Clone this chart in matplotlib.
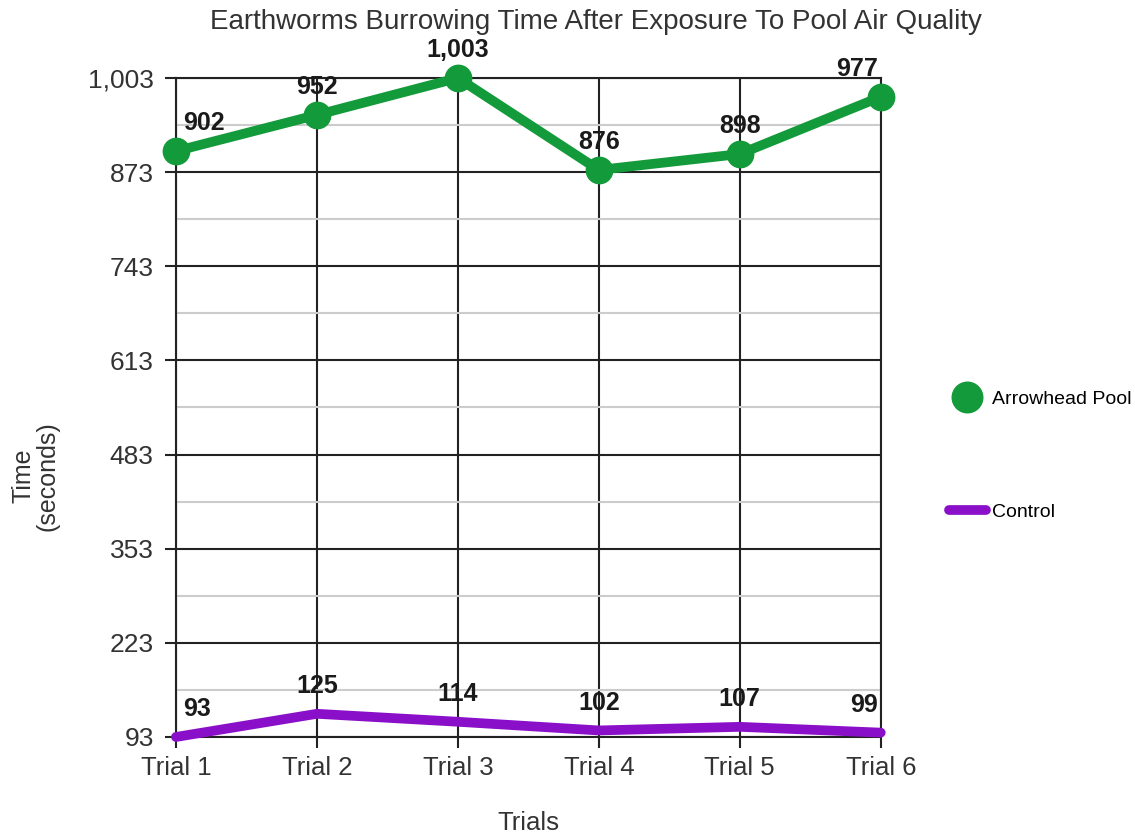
import numpy as np
import matplotlib.pyplot as plt
from matplotlib.lines import Line2D
from matplotlib.ticker import FixedLocator, FuncFormatter

plt.rcParams['font.family'] = ['Liberation Sans', 'DejaVu Sans']

trials = ["Trial 1", "Trial 2", "Trial 3", "Trial 4", "Trial 5", "Trial 6"]
arrowhead = [902, 952, 1003, 876, 898, 977]
control = [93, 125, 114, 102, 107, 99]
y_ticks = [93, 223, 353, 483, 613, 743, 873, 1003]

green = "#139a3a"
purple = "#8a0fc8"
text_col = "#333333"

fig = plt.figure(figsize=(11.35, 8.35), dpi=100)
ax = fig.add_axes([0.155, 0.1174, 0.621, 0.7892])

x = np.arange(len(trials))
ax.plot(x, arrowhead, color=green, lw=7, marker="o", ms=19,
        solid_capstyle="round", zorder=4, clip_on=False)
ax.plot(x, control, color=purple, lw=7, solid_capstyle="round",
        zorder=4, clip_on=False)

ax.set_xlim(0, len(trials) - 1)
ax.set_ylim(y_ticks[0], y_ticks[-1])
ax.set_xticks(x)
ax.set_xticklabels(trials, fontsize=18.5, color=text_col)
ax.yaxis.set_major_locator(FixedLocator(y_ticks))
ax.yaxis.set_minor_locator(FixedLocator([v + 65 for v in y_ticks[:-1]]))
ax.yaxis.set_major_formatter(FuncFormatter(lambda v, p: f"{int(round(v)):,}"))
ax.tick_params(axis="y", labelsize=19, labelcolor=text_col, pad=8)
ax.tick_params(axis="x", pad=6)
ax.tick_params(which="major", length=8, width=1.5, color="#222222")
ax.tick_params(which="minor", length=0)

ax.grid(which="major", color="#222222", lw=1.5, zorder=1)
ax.grid(which="minor", axis="y", color="#cccccc", lw=1.5, zorder=0)
for s in ax.spines.values():
    s.set_color("#222222")
    s.set_linewidth(1.5)

# data labels above each point; the end ones are pushed inward
def label_pos(i):
    if i == 0:
        return 5, "left"
    if i == len(trials) - 1:
        return -2, "right"
    return 0, "center"

for series in (arrowhead, control):
    for i, v in enumerate(series):
        dx, ha = label_pos(i)
        ax.annotate(f"{v:,}", (x[i], v), xytext=(dx, 15), textcoords="offset points",
                    ha=ha, va="baseline", fontsize=18, fontweight="bold",
                    color="#1a1a1a", zorder=6, annotation_clip=False)

fig.text(0.525, 0.9655, "Earthworms Burrowing Time After Exposure To Pool Air Quality",
         ha="center", va="baseline", fontsize=20, color=text_col)
ax.set_xlabel("Trials", fontsize=18.5, color=text_col, labelpad=22)
fig.text(0.031, 0.43, "Time\n(seconds)", rotation=90, ha="center", va="center",
         multialignment="center", fontsize=18, color=text_col, linespacing=1.0)

handles = [Line2D([], [], color=green, marker="o", ls="none", ms=22),
           Line2D([], [], color=purple, lw=7, solid_capstyle="round")]
fig.legend(handles=handles, labels=["Arrowhead Pool", "Control"],
           loc="center left", bbox_to_anchor=(0.836, 0.4545),
           frameon=False, fontsize=14, labelspacing=4.9, handlelength=1.9,
           handletextpad=0.3, borderpad=0, borderaxespad=0)

fig.savefig("out.png", dpi=100)
